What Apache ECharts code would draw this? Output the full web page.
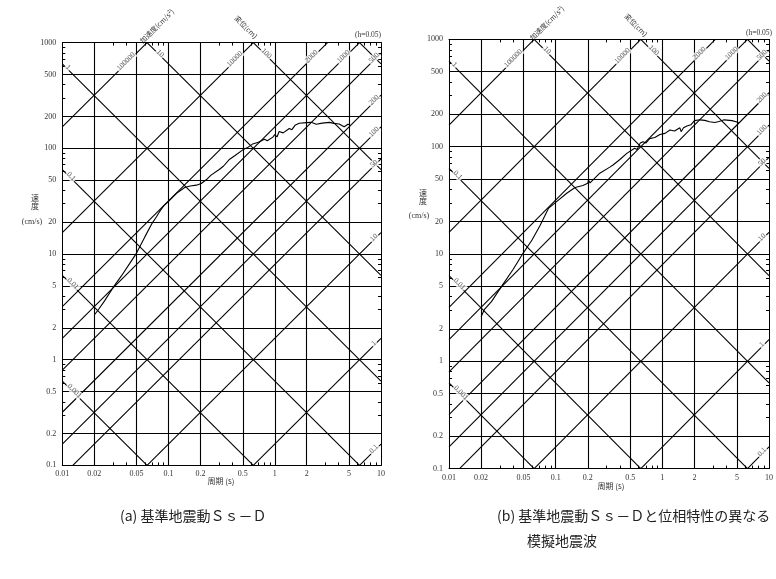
<!DOCTYPE html>
<html>
<head>
<meta charset="utf-8">
<script src="https://cdn.jsdelivr.net/npm/echarts@6/dist/echarts.min.js"></script>
<style>
html, body { margin: 0; padding: 0; background: #fff; }
#box { width: 776px; height: 579px; }
</style>
</head>
<body>
<div id="box"></div>
<script>
// (a) 基準地震動Ss-D : 周期(s) / 速度(cm/s)
let periodA = [0.02, 0.022, 0.025, 0.03, 0.036, 0.043, 0.05, 0.06, 0.07, 0.077, 0.082, 0.09, 0.1, 0.119, 0.142, 0.16, 0.183, 0.203, 0.23, 0.253, 0.3, 0.33, 0.376, 0.42, 0.5, 0.55, 0.62, 0.7, 0.8, 0.85, 0.96, 1.0, 1.05, 1.1, 1.2, 1.37, 1.45, 1.55, 1.7, 1.99, 2.2, 2.46, 2.8, 3.27, 3.6, 4.03, 4.5, 4.89, 5.0];
let velA = [2.65, 3.0, 3.6, 4.8, 6.2, 8.1, 10.2, 14.6, 19.5, 22.5, 25, 28.5, 31.5, 37.5, 42.6, 44, 44.8, 46.4, 51, 56, 63, 68, 78.8, 85, 96.7, 101, 110, 114, 122, 118, 127.5, 135, 128, 144, 140, 154, 150, 165, 172.6, 175, 176, 169, 173, 176, 172, 170, 160, 169, 168];

// (b) 位相特性の異なる模擬地震波
let periodB = [0.02, 0.0215, 0.025, 0.031, 0.04, 0.0496, 0.06, 0.071, 0.0855, 0.102, 0.127, 0.152, 0.18, 0.2, 0.203, 0.21, 0.259, 0.322, 0.345, 0.4, 0.464, 0.55, 0.58, 0.62, 0.66, 0.7, 0.76, 0.85, 0.95, 1.06, 1.18, 1.3, 1.46, 1.5, 1.58, 1.7, 1.85, 2.0, 2.25, 2.5, 2.77, 3.1, 3.4, 3.8, 4.5, 5.0, 5.2];
let velB = [2.6, 3.05, 3.6, 4.96, 7.2, 10.2, 13.5, 18.2, 26.6, 30.8, 36.8, 41.6, 43.5, 45.6, 49, 46, 56.6, 64.5, 67.6, 76, 86.6, 96.9, 94, 108, 111, 108, 119, 122, 130, 133, 143, 140, 150, 138, 150, 156, 160, 175, 178, 176, 171, 168, 172, 178, 175, 170, 166];

// 目盛
let xTicks = [0.01, 0.02, 0.05, 0.1, 0.2, 0.5, 1, 2, 5, 10];
let yTicks = [0.1, 0.2, 0.5, 1, 2, 5, 10, 20, 50, 100, 200, 500, 1000];
let xMinor = [0.03, 0.04, 0.06, 0.07, 0.08, 0.09, 0.3, 0.4, 0.6, 0.7, 0.8, 0.9, 3, 4, 6, 7, 8, 9];
let yMinor = [0.3, 0.4, 0.6, 0.7, 0.8, 0.9, 3, 4, 6, 7, 8, 9, 30, 40, 60, 70, 80, 90, 300, 400, 600, 700, 800, 900];

// 加速度線 (cm/s²) と 変位線 (cm)
let accLines = [0.1, 1, 10, 50, 100, 200, 500, 1000, 2000, 10000, 100000];
let dispLines = [0.001, 0.01, 0.1, 1, 10, 100, 1000];
let accTopLabels = [100000, 10000, 2000, 1000];
let accRightLabels = [500, 200, 100, 50, 10, 1, 0.1];
let dispLeftLabels = [1, 0.1, 0.01, 0.001];
let dispTopLabels = [10, 100];

const lg = Math.log10;
const LG2PI = lg(2 * Math.PI);
const X0 = -2, X1 = 1, Y0 = -1, Y1 = 3;
const SERIF = 'Liberation Serif';
const CJK = 'Noto Sans CJK JP';

// 2つのパネルの配置
let panels = [
    {left: 62.3, top: 42.6, width: 318.7, height: 422.8},
    {left: 449, top: 39.4, width: 322.5, height: 429.2}
];

function accY(a, x) { return lg(a) + x - LG2PI; }
function dispY(d, x) { return lg(d) + LG2PI - x; }

function fmt(v) {
    return String(Number(Math.pow(10, v).toPrecision(2)));
}

// 格子線と斜線
function gridSegments() {
    let segs = [];
    xTicks.slice(1, -1).forEach(t => segs.push([[lg(t), Y0], [lg(t), Y1]]));
    yTicks.slice(1, -1).forEach(v => segs.push([[X0, lg(v)], [X1, lg(v)]]));
    accLines.forEach(a => {
        let c = lg(a) - LG2PI;
        let xa = Math.max(X0, Y0 - c), xb = Math.min(X1, Y1 - c);
        if (xa < xb) segs.push([[xa, xa + c], [xb, xb + c]]);
    });
    dispLines.forEach(d => {
        let c = lg(d) + LG2PI;
        let xa = Math.max(X0, c - Y1), xb = Math.min(X1, c - Y0);
        if (xa < xb) segs.push([[xa, c - xa], [xb, c - xb]]);
    });
    return segs.map(s => ({coords: s}));
}

function lineLabels(p) {
    let xd = p.width / 3, yd = p.height / 4;
    let lift = 2 / yd;
    let items = [];
    let mk = (x, y, txt, rot) => ({value: [x, y], label: {formatter: txt, rotate: rot}});
    accTopLabels.forEach(a => {
        let txt = String(a);
        let x = Y1 - lg(a) + LG2PI - (txt.length * 2.5 + 6) / xd;
        items.push(mk(x, accY(a, x) + lift, txt, 45));
    });
    accRightLabels.forEach(a => {
        let x = X1 - 7 / xd;
        items.push(mk(x, accY(a, x) + lift, String(a), 45));
    });
    dispLeftLabels.forEach(d => {
        let txt = String(d);
        let x = X0 + (txt.length * 1.6 + 4) / xd;
        items.push(mk(x, dispY(d, x) + lift, txt, -45));
    });
    dispTopLabels.forEach(d => {
        let x = lg(d) + LG2PI - Y1 + 13 / xd;
        items.push(mk(x, dispY(d, x) + lift, String(d), -45));
    });
    return items;
}

let chart = echarts.init(document.getElementById('box'));

let grids = [], xAxes = [], yAxes = [], series = [];
let frame = {show: true, onZero: false, lineStyle: {color: '#000', width: 1}};
let minorTickX = {show: true, inside: true, length: 3, customValues: xMinor.map(lg), lineStyle: {color: '#000', width: 1}};
let minorTickY = {show: true, inside: true, length: 3, customValues: yMinor.map(lg), lineStyle: {color: '#000', width: 1}};

panels.forEach((p, i) => {
    grids.push({left: p.left, top: p.top, width: p.width, height: p.height});
    xAxes.push({
        gridIndex: i, type: 'value', min: X0, max: X1, position: 'bottom',
        axisLine: frame, axisTick: minorTickX, splitLine: {show: false},
        axisLabel: {customValues: xTicks.map(lg), formatter: fmt, fontSize: 8, margin: 5,
            color: '#333', fontFamily: SERIF}
    });
    xAxes.push({
        gridIndex: i, type: 'value', min: X0, max: X1, position: 'top',
        axisLine: frame, axisTick: minorTickX, splitLine: {show: false}, axisLabel: {show: false}
    });
    yAxes.push({
        gridIndex: i, type: 'value', min: Y0, max: Y1, position: 'left',
        axisLine: frame, axisTick: minorTickY, splitLine: {show: false},
        axisLabel: {customValues: yTicks.map(lg), formatter: fmt, fontSize: 8, margin: 6,
            color: '#333', fontFamily: SERIF}
    });
    yAxes.push({
        gridIndex: i, type: 'value', min: Y0, max: Y1, position: 'right',
        axisLine: frame, axisTick: minorTickY, splitLine: {show: false}, axisLabel: {show: false}
    });

    series.push({
        type: 'lines', coordinateSystem: 'cartesian2d',
        xAxisIndex: i * 2, yAxisIndex: i * 2,
        data: gridSegments(), silent: true, z: 2,
        lineStyle: {color: '#000', width: 1.1, opacity: 1}
    });
    series.push({
        type: 'scatter', xAxisIndex: i * 2, yAxisIndex: i * 2,
        symbolSize: 0, silent: true, z: 4,
        data: lineLabels(p),
        label: {show: true, position: 'inside', fontSize: 7.5, fontFamily: SERIF, color: '#333',
            backgroundColor: '#fff', padding: [0, 1]}
    });
    let per = i === 0 ? periodA : periodB;
    let vel = i === 0 ? velA : velB;
    series.push({
        type: 'line', xAxisIndex: i * 2, yAxisIndex: i * 2,
        data: per.map((t, k) => [lg(t), lg(vel[k])]),
        symbol: 'none', z: 5, silent: true,
        lineStyle: {color: '#000', width: 1.1}
    });
});

function txt(x, y, text, size, font, extra) {
    return Object.assign({
        type: 'text', x: x, y: y,
        style: {text: text, fontSize: size, fontFamily: font, fill: '#333', align: 'center', verticalAlign: 'middle'}
    }, extra || {});
}

let graphics = [
    // (a)
    txt(157, 26, '加速度(cm/s²)', 7, CJK, {rotation: Math.PI / 4}),
    txt(246, 27, '変位(cm)', 7, CJK, {rotation: -Math.PI / 4}),
    txt(368, 35, '(h=0.05)', 7.5, SERIF),
    txt(35, 202, '速\n度', 8, CJK),
    txt(32, 222, '(cm/s)', 8, SERIF),
    txt(221, 481, '周期 (s)', 8, CJK),
    // (b)
    txt(547, 23, '加速度(cm/s²)', 7, CJK, {rotation: Math.PI / 4}),
    txt(636, 25, '変位(cm)', 7, CJK, {rotation: -Math.PI / 4}),
    txt(759, 33, '(h=0.05)', 7.5, SERIF),
    txt(423, 197, '速\n度', 8, CJK),
    txt(419, 216, '(cm/s)', 8, SERIF),
    txt(611, 486, '周期 (s)', 8, CJK),
    // captions
    {type: 'text', x: 120, y: 516, style: {text: '(a) 基準地震動Ｓｓ－Ｄ', fontSize: 14, fontFamily: CJK, fill: '#222', verticalAlign: 'middle'}},
    {type: 'text', x: 497, y: 516, style: {text: '(b) 基準地震動Ｓｓ－Ｄと位相特性の異なる', fontSize: 14, fontFamily: CJK, fill: '#222', verticalAlign: 'middle'}},
    {type: 'text', x: 527, y: 541, style: {text: '模擬地震波', fontSize: 14, fontFamily: CJK, fill: '#222', verticalAlign: 'middle'}}
];

chart.setOption({
    backgroundColor: '#fff',
    animation: false,
    textStyle: {fontFamily: SERIF},
    grid: grids,
    xAxis: xAxes,
    yAxis: yAxes,
    series: series,
    graphic: graphics
});
</script>
</body>
</html>
